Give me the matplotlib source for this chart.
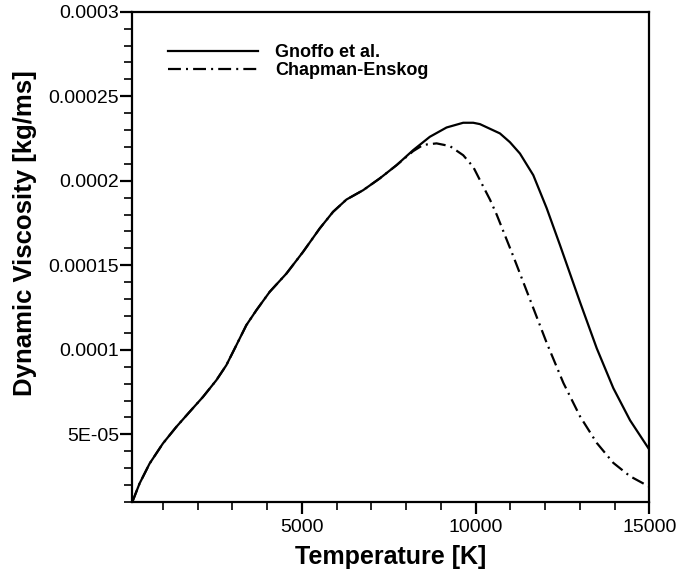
import numpy as np
import matplotlib
matplotlib.use("Agg")
import matplotlib.pyplot as plt
from matplotlib.ticker import MultipleLocator

plt.rcParams['font.family'] = ['Liberation Sans', 'DejaVu Sans']

# Gnoffo et al. curve
T_gnoffo = [120, 328, 617, 1000, 1386, 1769, 2152, 2538, 2826, 3114, 3402, 3690,
            4074, 4555, 5033, 5514, 5897, 6284, 6762, 7243, 7724, 8202, 8683,
            9164, 9643, 9931, 10124, 10700, 10988, 11276, 11660, 12045, 12429,
            13005, 13486, 13964, 14445, 14973, 15000]
mu_gnoffo = [1.0e-5, 2.09e-5, 3.27e-5, 4.46e-5, 5.44e-5, 6.33e-5, 7.21e-5, 8.20e-5,
             9.09e-5, 1.027e-4, 1.146e-4, 1.234e-4, 1.343e-4, 1.451e-4, 1.579e-4,
             1.718e-4, 1.816e-4, 1.889e-4, 1.944e-4, 2.014e-4, 2.092e-4, 2.181e-4,
             2.260e-4, 2.315e-4, 2.343e-4, 2.343e-4, 2.335e-4, 2.280e-4, 2.228e-4,
             2.161e-4, 2.033e-4, 1.838e-4, 1.619e-4, 1.282e-4, 1.009e-4, 7.73e-5,
             5.83e-5, 4.18e-5, 4.10e-5]

# Chapman-Enskog curve
T_ce = [120, 328, 617, 1000, 1386, 1769, 2152, 2538, 2826, 3114, 3402, 3690,
        4074, 4555, 5033, 5514, 5897, 6284, 6762, 7243, 7724, 8202, 8490, 8876,
        9260, 9643, 9931, 10124, 10417, 10610, 11087, 11568, 12048, 12526, 13006,
        13487, 13964, 14445, 15000]
mu_ce = [1.0e-5, 2.09e-5, 3.27e-5, 4.46e-5, 5.44e-5, 6.33e-5, 7.21e-5, 8.20e-5,
         9.09e-5, 1.027e-4, 1.146e-4, 1.234e-4, 1.343e-4, 1.451e-4, 1.579e-4,
         1.718e-4, 1.816e-4, 1.889e-4, 1.944e-4, 2.014e-4, 2.092e-4, 2.175e-4,
         2.212e-4, 2.221e-4, 2.205e-4, 2.151e-4, 2.082e-4, 2.004e-4, 1.887e-4,
         1.798e-4, 1.552e-4, 1.296e-4, 1.04e-4, 8.04e-5, 6.06e-5, 4.49e-5,
         3.31e-5, 2.52e-5, 1.90e-5]

xticks = [5000, 10000, 15000]
yticks = [5e-5, 1e-4, 1.5e-4, 2e-4, 2.5e-4, 3e-4]
ytick_labels = ['5E-05', '0.0001', '0.00015', '0.0002', '0.00025', '0.0003']

fig = plt.figure(figsize=(6.8, 5.73), dpi=100)
ax = fig.add_axes([0.1946, 0.124, 0.7603, 0.8556])

ax.plot(T_gnoffo, mu_gnoffo, color='black', lw=1.6, label='Gnoffo et al.')
ce, = ax.plot(T_ce, mu_ce, color='black', lw=1.6, label='Chapman-Enskog')
ce.set_dashes([5.8, 2.3, 0.9, 2.3])

ax.set_xlim(120, 15000)
ax.set_ylim(1e-5, 3e-4)
ax.set_xticks(xticks)
ax.set_xticklabels([str(t) for t in xticks])
ax.set_yticks(yticks)
ax.set_yticklabels(ytick_labels)
ax.xaxis.set_minor_locator(MultipleLocator(1000))
ax.yaxis.set_minor_locator(MultipleLocator(1e-5))

for s in ax.spines.values():
    s.set_linewidth(1.6)
ax.tick_params(which='major', length=8.5, width=1.6, labelsize=14, direction='out')
ax.tick_params(which='minor', length=5.5, width=1.2, direction='out')
ax.tick_params(axis='y', which='major', pad=1)
ax.tick_params(axis='x', which='major', pad=3.5)

ax.set_xlabel('Temperature [K]', fontsize=18, fontweight='bold')
ax.set_ylabel('Dynamic Viscosity [kg/ms]', fontsize=18.5, fontweight='bold')
ax.xaxis.set_label_coords(0.5, -0.112)
ax.yaxis.set_label_coords(-0.2075, 0.549)
ax.xaxis.label.set_va('center')
ax.yaxis.label.set_va('center')

ax.legend(loc='upper left', bbox_to_anchor=(0.069, 0.934), frameon=False,
          handlelength=5, handletextpad=0.95, labelspacing=0.05,
          borderpad=0, borderaxespad=0,
          prop={'size': 13, 'weight': 'bold'})

fig.savefig('out.png', dpi=100)
